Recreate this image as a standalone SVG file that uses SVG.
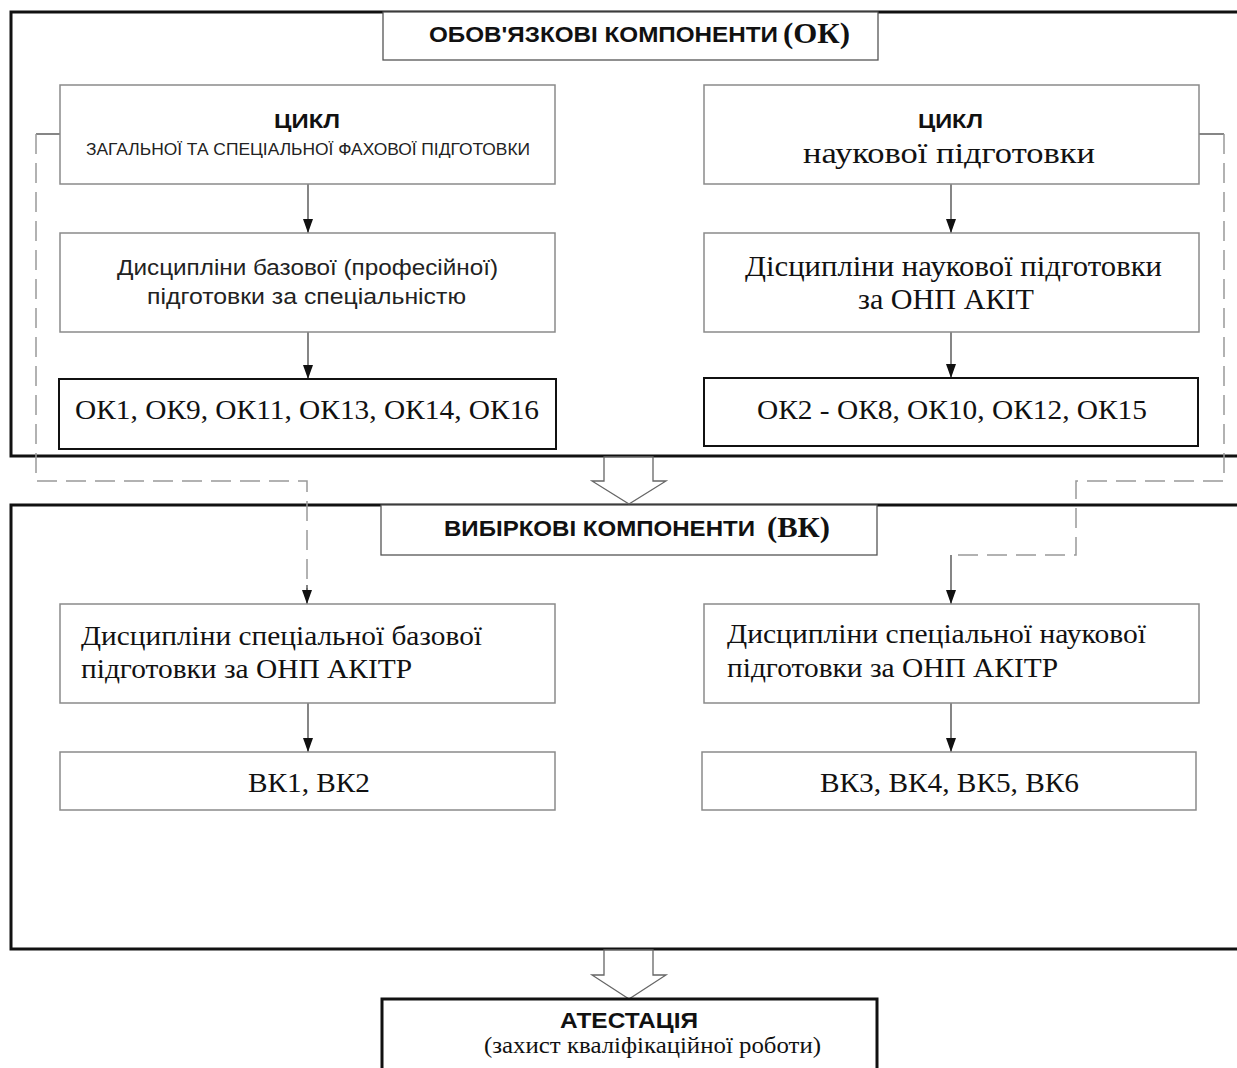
<svg xmlns="http://www.w3.org/2000/svg" width="1237" height="1068" viewBox="0 0 1237 1068">
<defs>
<marker id="ah" viewBox="0 0 14 10" refX="14" refY="5" markerWidth="14" markerHeight="10" markerUnits="userSpaceOnUse" orient="auto"><path d="M0,0 L14,5 L0,10 z" fill="#111"/></marker>
<style>
.frame{fill:none;stroke:#111;stroke-width:3}
.title{fill:#fff;stroke:#555;stroke-width:1.3}
.box{fill:#fff;stroke:#8a8a8a;stroke-width:1.5}
.kbox{fill:#fff;stroke:#111;stroke-width:2}
.ar{fill:none;stroke:#444;stroke-width:1.3}
.dash{fill:none;stroke:#999;stroke-width:1.5;stroke-dasharray:20 9}
.blk{fill:#fff;stroke:#666;stroke-width:1.3}
text{lengthAdjust:spacingAndGlyphs}
.sb{font-family:'Liberation Sans',Arial,sans-serif;font-weight:bold;fill:#111}
.s{font-family:'Liberation Sans',Arial,sans-serif;fill:#222}
.t{font-family:'Liberation Serif','Times New Roman',serif;fill:#111}
.tb{font-family:'Liberation Serif','Times New Roman',serif;font-weight:bold;fill:#111}
</style>
</defs>
<rect width="1237" height="1068" fill="#fff"/>
<g id="frame-ok"><path class="frame" d="M1237,12 H11 V456 H1237"/></g>
<g id="frame-vk"><path class="frame" d="M1237,505 H11 V949 H1237"/></g>
<g id="connectors">
<line class="ar" x1="308" y1="184" x2="308" y2="233" marker-end="url(#ah)"/>
<line class="ar" x1="308" y1="332" x2="308" y2="379" marker-end="url(#ah)"/>
<line class="ar" x1="951" y1="184" x2="951" y2="233" marker-end="url(#ah)"/>
<line class="ar" x1="951" y1="332" x2="951" y2="378" marker-end="url(#ah)"/>
<line class="ar" x1="308" y1="703" x2="308" y2="752" marker-end="url(#ah)"/>
<line class="ar" x1="951" y1="703" x2="951" y2="752" marker-end="url(#ah)"/>
<path class="ar" d="M60,134 H36"/>
<path class="dash" d="M36,134 V481 H307 V590"/>
<line class="ar" x1="307" y1="585" x2="307" y2="604" marker-end="url(#ah)"/>
<path class="ar" d="M1198,134 H1224"/>
<path class="dash" d="M1224,134 V481 H1076 V555 H951"/>
<line class="ar" x1="951" y1="555" x2="951" y2="604" marker-end="url(#ah)"/>
<polygon class="blk" points="604,457 604,481 592,481 629,504 666,481 653,481 653,457"/>
<polygon class="blk" points="604,950 604,975 592,975 629,999 666,975 653,975 653,950"/>
</g>
<g id="ok-title"><rect class="title" x="383" y="12" width="495" height="48"/>
<text class="sb" x="429" y="42" font-size="22" textLength="349" lengthAdjust="spacingAndGlyphs">ОБОВ'ЯЗКОВІ КОМПОНЕНТИ</text>
<text class="tb" x="783" y="43" font-size="29" textLength="67" lengthAdjust="spacingAndGlyphs">(ОК)</text></g>
<g id="cycle-general"><rect class="box" x="60" y="85" width="495" height="99"/>
<text class="sb" x="274" y="128" font-size="21" textLength="66" lengthAdjust="spacingAndGlyphs">ЦИКЛ</text>
<text class="s" x="86" y="155" font-size="16" textLength="444" lengthAdjust="spacingAndGlyphs">ЗАГАЛЬНОЇ ТА СПЕЦІАЛЬНОЇ ФАХОВОЇ ПІДГОТОВКИ</text></g>
<g id="cycle-science"><rect class="box" x="704" y="85" width="495" height="99"/>
<text class="sb" x="918" y="128" font-size="21" textLength="65" lengthAdjust="spacingAndGlyphs">ЦИКЛ</text>
<text class="t" x="803" y="163" font-size="30" textLength="292" lengthAdjust="spacingAndGlyphs">наукової підготовки</text></g>
<g id="disc-base"><rect class="box" x="60" y="233" width="495" height="99"/>
<text class="s" x="117" y="275" font-size="22" textLength="381" lengthAdjust="spacingAndGlyphs">Дисципліни базової (професійної)</text>
<text class="s" x="147" y="304" font-size="22" textLength="319" lengthAdjust="spacingAndGlyphs">підготовки за спеціальністю</text></g>
<g id="disc-science"><rect class="box" x="704" y="233" width="495" height="99"/>
<text class="t" x="745" y="276" font-size="29" textLength="417" lengthAdjust="spacingAndGlyphs">Дісципліни наукової підготовки</text>
<text class="t" x="858" y="309" font-size="29" textLength="176" lengthAdjust="spacingAndGlyphs">за ОНП АКІТ</text></g>
<g id="ok-left"><rect class="kbox" x="59" y="379" width="497" height="70"/>
<text class="t" x="75" y="419" font-size="28" textLength="464" lengthAdjust="spacingAndGlyphs">ОК1, ОК9, ОК11, ОК13, ОК14, ОК16</text></g>
<g id="ok-right"><rect class="kbox" x="704" y="378" width="494" height="68"/>
<text class="t" x="757" y="419" font-size="28" textLength="390" lengthAdjust="spacingAndGlyphs">ОК2 - ОК8, ОК10, ОК12, ОК15</text></g>
<g id="vk-title"><rect class="title" x="381" y="505" width="496" height="50"/>
<text class="sb" x="444" y="536" font-size="22" textLength="311" lengthAdjust="spacingAndGlyphs">ВИБІРКОВІ КОМПОНЕНТИ</text>
<text class="tb" x="767" y="537" font-size="29" textLength="63" lengthAdjust="spacingAndGlyphs">(ВК)</text></g>
<g id="vk-base"><rect class="box" x="60" y="604" width="495" height="99"/>
<text class="t" x="81" y="645" font-size="28" textLength="401" lengthAdjust="spacingAndGlyphs">Дисципліни спеціальної базової</text>
<text class="t" x="81" y="678" font-size="28" textLength="331" lengthAdjust="spacingAndGlyphs">підготовки за ОНП АКІТР</text></g>
<g id="vk-science"><rect class="box" x="704" y="604" width="495" height="99"/>
<text class="t" x="727" y="643" font-size="28" textLength="419" lengthAdjust="spacingAndGlyphs">Дисципліни спеціальної наукової</text>
<text class="t" x="727" y="677" font-size="28" textLength="331" lengthAdjust="spacingAndGlyphs">підготовки за ОНП АКІТР</text></g>
<g id="vk12"><rect class="box" x="60" y="752" width="495" height="58"/>
<text class="t" x="248" y="792" font-size="28" textLength="122" lengthAdjust="spacingAndGlyphs">ВК1, ВК2</text></g>
<g id="vk3456"><rect class="box" x="702" y="752" width="494" height="58"/>
<text class="t" x="820" y="792" font-size="28" textLength="259" lengthAdjust="spacingAndGlyphs">ВК3, ВК4, ВК5, ВК6</text></g>
<g id="attest"><rect x="382" y="999" width="495" height="90" fill="#fff" stroke="#111" stroke-width="3"/>
<text class="sb" x="560" y="1028" font-size="22" textLength="138" lengthAdjust="spacingAndGlyphs">АТЕСТАЦІЯ</text>
<text class="t" x="484" y="1053" font-size="23" textLength="337" lengthAdjust="spacingAndGlyphs">(захист кваліфікаційної роботи)</text></g>
</svg>
